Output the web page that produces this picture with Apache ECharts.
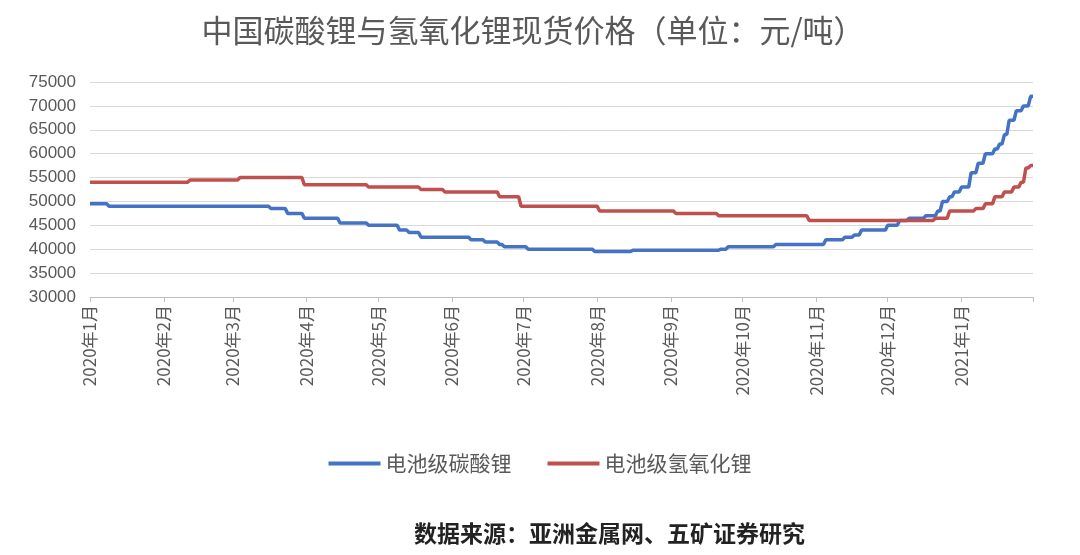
<!DOCTYPE html><html><head><meta charset="utf-8">
<script src="https://cdn.jsdelivr.net/npm/echarts@6/dist/echarts.min.js"></script>
<style>body{margin:0;background:#fff}#c{width:1080px;height:555px}</style></head><body><div id="c"></div>
<script>
// change points [date, value]; value held until next change point
const carbonate = [["2020-01-01",49500],["2020-01-09",49000],["2020-03-17",48500],["2020-03-24",47500],["2020-03-31",46500],["2020-04-15",45500],["2020-04-27",45000],["2020-05-10",44000],["2020-05-14",43500],["2020-05-19",42500],["2020-06-09",42000],["2020-06-15",41500],["2020-06-21",41000],["2020-06-23",40500],["2020-07-03",40000],["2020-07-31",39500],["2020-08-16",39800],["2020-09-22",40000],["2020-09-25",40500],["2020-10-15",41000],["2020-11-05",42000],["2020-11-13",42500],["2020-11-17",43000],["2020-11-20",44000],["2020-12-01",45000],["2020-12-06",46000],["2020-12-10",46500],["2020-12-17",47000],["2020-12-22",48000],["2020-12-24",50000],["2020-12-27",51000],["2020-12-29",52000],["2021-01-01",53000],["2021-01-05",56000],["2021-01-08",58000],["2021-01-11",60000],["2021-01-15",61000],["2021-01-17",62000],["2021-01-19",64000],["2021-01-21",67000],["2021-01-24",69000],["2021-01-27",70000],["2021-01-30",72000]];
const hydroxide = [["2020-01-01",54000],["2020-02-12",54500],["2020-03-04",55000],["2020-03-31",53500],["2020-04-27",53000],["2020-05-19",52500],["2020-05-29",52000],["2020-06-21",51000],["2020-06-30",49000],["2020-08-02",48000],["2020-09-03",47500],["2020-09-21",47000],["2020-10-29",46000],["2020-12-21",46500],["2020-12-27",48000],["2021-01-07",48500],["2021-01-11",49500],["2021-01-15",51000],["2021-01-19",52000],["2021-01-23",53000],["2021-01-26",54000],["2021-01-28",57000],["2021-01-30",57500]];
const startDate = "2020-01-01", endDate = "2021-01-31";
const seriesNames = ["电池级碳酸锂","电池级氢氧化锂"];

const days=[];
for(let t=Date.parse(startDate+"T00:00:00Z");t<=Date.parse(endDate+"T00:00:00Z");t+=86400000){days.push(new Date(t).toISOString().slice(0,10));}
function hold(cp){const out=[];let i=0,v=null;for(const d of days){while(i<cp.length&&cp[i][0]<=d){v=cp[i][1];i++;}out.push(v);}return out;}
const isMonthStart=(idx)=>days[idx].slice(8)==="01";
const c=echarts.init(document.getElementById('c'));
c.setOption({
 title:{text:"中国碳酸锂与氢氧化锂现货价格（单位：元/吨）",left:528,top:10,textAlign:'center',textStyle:{fontFamily:'Noto Sans CJK SC',fontSize:31,fontWeight:'normal',color:'#595959'}},
 graphic:[{type:'text',left:414,top:522,style:{text:"数据来源：亚洲金属网、五矿证券研究",font:'bold 23px "Noto Sans CJK SC"',fill:'#222'}}],
 legend:{bottom:76,left:'center',itemGap:36,itemWidth:52,itemHeight:4,icon:'rect',textStyle:{fontFamily:'Noto Sans CJK SC',fontSize:21,color:'#595959'}},
 grid:{left:90,right:47,top:82,bottom:258},
 xAxis:{type:'category',data:days,boundaryGap:false,
  axisLine:{lineStyle:{color:'#bfbfbf'}},
  axisTick:{interval:(i)=>isMonthStart(i)||i===days.length-1,lineStyle:{color:'#bfbfbf'},length:5},
  axisLabel:{interval:(i)=>isMonthStart(i),rotate:90,fontFamily:'Noto Sans CJK SC',fontSize:17,color:'#595959',
   formatter:(v)=>{const [y,m]=v.split('-');return y+'年'+parseInt(m)+'月';}}},
 yAxis:{type:'value',min:30000,max:75000,interval:5000,
  axisLabel:{fontFamily:'Liberation Sans',fontSize:17,color:'#595959',margin:14,formatter:(v)=>String(v)},
  splitLine:{lineStyle:{color:'#d9d9d9'}}},
 series:[
  {name:seriesNames[0],type:'line',data:hold(carbonate),showSymbol:false,lineStyle:{width:3.5,color:'#4472c4'},itemStyle:{color:'#4472c4'}},
  {name:seriesNames[1],type:'line',data:hold(hydroxide),showSymbol:false,lineStyle:{width:3.5,color:'#c0504d'},itemStyle:{color:'#c0504d'}}
 ]});
</script></body></html>
